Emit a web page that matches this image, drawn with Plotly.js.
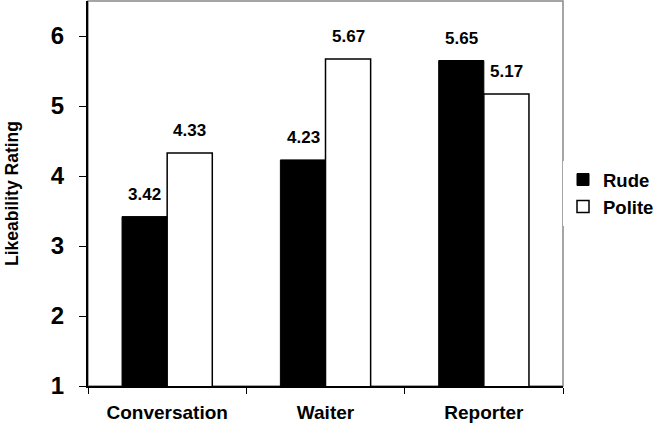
<!DOCTYPE html>
<html>
<head>
<script src="https://cdn.plot.ly/plotly-3.0.1.min.js"></script>
<style>body{margin:0;background:#fff;}#chart{width:656px;height:428px;}</style>
</head>
<body>
<div id="chart"></div>
<script>
const conditions = ["Conversation", "Waiter", "Reporter"];
const rudeRatings = [3.42, 4.23, 5.65];
const politeRatings = [4.33, 5.67, 5.17];
const yTicks = [1, 2, 3, 4, 5, 6];

const boldFont = "Liberation Sans, Arial, sans-serif";

const traces = [
  {
    x: conditions, y: rudeRatings, type: "bar", name: "Rude",
    marker: {color: "#000", line: {color: "#000", width: 1}}
  },
  {
    x: conditions, y: politeRatings, type: "bar", name: "Polite",
    marker: {color: "#fff", line: {color: "#000", width: 1.5}}
  }
];

// value labels above each bar
const halfBar = 22.5;
const labels = [];
conditions.forEach((c, i) => {
  labels.push({x: c, y: rudeRatings[i], text: rudeRatings[i].toFixed(2), xshift: -halfBar});
  labels.push({x: c, y: politeRatings[i], text: politeRatings[i].toFixed(2), xshift: halfBar});
});
const annotations = labels.map(l => ({
  x: l.x, y: l.y, text: l.text, xref: "x", yref: "y", xshift: l.xshift, yshift: 11,
  xanchor: "center", yanchor: "bottom", showarrow: false,
  font: {size: 17, weight: "bold", color: "#000"}
}));

const layout = {
  width: 656, height: 428,
  margin: {l: 88, r: 93, t: 1, b: 42, autoexpand: false},
  paper_bgcolor: "#fff", plot_bgcolor: "#fff",
  font: {family: boldFont, color: "#000"},
  barmode: "group", bargap: 0.43, bargroupgap: 0,
  showlegend: true,
  legend: {x: 1.0, y: 0.5, xanchor: "left", yanchor: "middle",
    font: {size: 18.5, weight: "bold"}, itemwidth: 30, tracegroupgap: 10},
  xaxis: {
    showline: true, linecolor: "#000", linewidth: 2,
    ticks: "outside", tickson: "boundaries", ticklen: 6, tickwidth: 1, tickcolor: "#000",
    tickfont: {size: 19, weight: "bold"}, ticklabelstandoff: 8, showgrid: false
  },
  yaxis: {
    range: [1, 6.5], tickvals: yTicks, showline: true, linecolor: "#000", linewidth: 2,
    ticks: "outside", ticklen: 7, tickwidth: 1, tickcolor: "#000", showgrid: false, zeroline: false,
    tickfont: {size: 24, weight: "bold"}, ticklabelstandoff: 10,
    title: {text: "Likeability Rating", font: {size: 17.5, weight: "bold"}, standoff: 28}
  },
  annotations: annotations,
  shapes: [{type: "rect", xref: "paper", yref: "paper", x0: 0, x1: 1, y0: 0, y1: 1,
    line: {color: "#888", width: 1.5}, layer: "below"}]
};

Plotly.newPlot("chart", traces, layout, {displayModeBar: false});
</script>
</body>
</html>
